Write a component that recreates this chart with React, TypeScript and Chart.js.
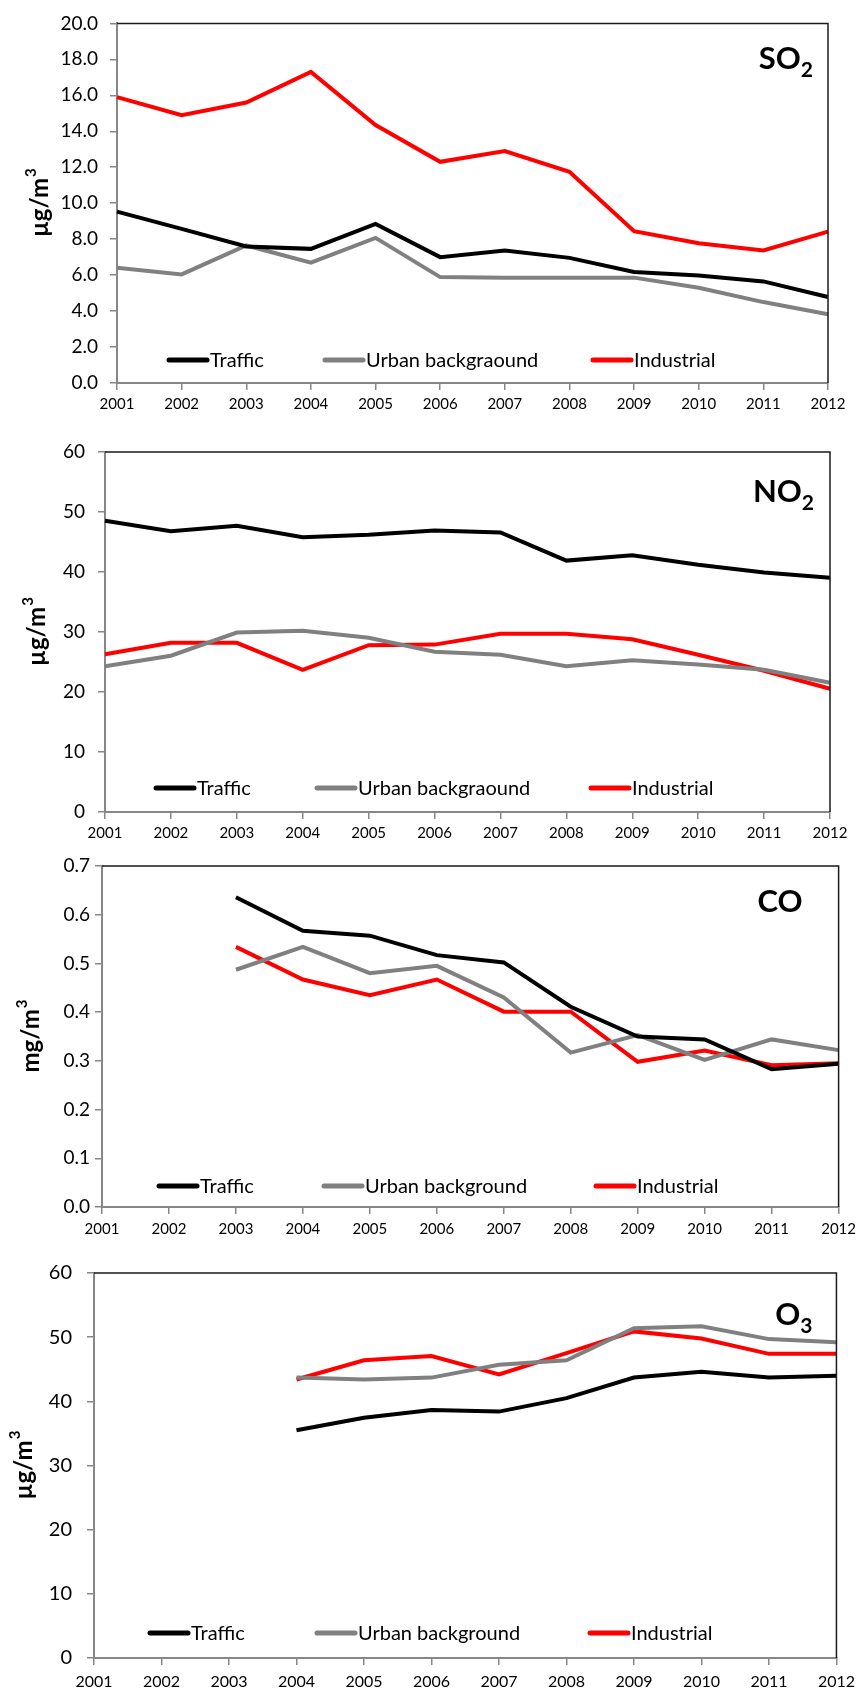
import React, { useEffect, useRef } from 'react';
import { Chart, registerables } from 'chart.js';

Chart.register(...registerables);

// ---------- data ----------
const years = ['2001', '2002', '2003', '2004', '2005', '2006', '2007', '2008', '2009', '2010', '2011', '2012'];

const so2Traffic = [9.53, 8.57, 7.59, 7.46, 8.85, 7.0, 7.37, 6.96, 6.17, 5.98, 5.65, 4.78];
const so2Urban = [6.41, 6.04, 7.65, 6.69, 8.07, 5.89, 5.86, 5.86, 5.86, 5.3, 4.5, 3.82];
const so2Industrial = [15.9, 14.9, 15.6, 17.3, 14.35, 12.3, 12.9, 11.75, 8.44, 7.77, 7.37, 8.42];

const no2Traffic = [48.55, 46.8, 47.7, 45.8, 46.2, 46.9, 46.6, 41.9, 42.8, 41.2, 39.9, 39.05];
const no2Urban = [24.3, 26.05, 29.9, 30.2, 29.05, 26.7, 26.2, 24.3, 25.3, 24.6, 23.7, 21.55];
const no2Industrial = [26.3, 28.2, 28.2, 23.7, 27.8, 27.9, 29.7, 29.7, 28.8, 26.2, 23.55, 20.55];

const coTraffic = [null, null, 0.636, 0.567, 0.557, 0.517, 0.502, 0.411, 0.35, 0.344, 0.283, 0.294];
const coUrban = [null, null, 0.487, 0.534, 0.48, 0.495, 0.43, 0.317, 0.353, 0.302, 0.344, 0.322];
const coIndustrial = [null, null, 0.534, 0.467, 0.435, 0.467, 0.401, 0.401, 0.298, 0.321, 0.291, 0.295];

const o3Traffic = [null, null, null, 35.5, 37.45, 38.65, 38.4, 40.5, 43.7, 44.6, 43.7, 44.0];
const o3Urban = [null, null, null, 43.7, 43.4, 43.7, 45.7, 46.4, 51.4, 51.7, 49.7, 49.2];
const o3Industrial = [null, null, null, 43.4, 46.4, 47.05, 44.2, 47.5, 50.9, 49.8, 47.4, 47.4];

const seriesNamesA = ['Traffic', 'Urban backgraound', 'Industrial'];
const seriesNamesB = ['Traffic', 'Urban background', 'Industrial'];

const so2Ticks = { min: 0, max: 20, step: 2, decimals: 1 };
const no2Ticks = { min: 0, max: 60, step: 10, decimals: 0 };
const coTicks = { min: 0, max: 0.7, step: 0.1, decimals: 1 };
const o3Ticks = { min: 0, max: 60, step: 10, decimals: 0 };

// ---------- styles ----------
const COLORS = ['#000000', '#808080', '#ff0000'];
const AXIS_GRAY = '#878787';
const FONT = 'Lato, "Open Sans", sans-serif';

type Panel = {
  top: number; height: number;
  area: { l: number; t: number; r: number; b: number };
  xPad: number; xFont: number; yPad: number; yFont: number;
  titleX: number; unit: string;
  formula: string; sub: string; fRight: number; fBase: number;
  legendX: number[]; legendY: number;
  names: string[]; data: (number | null)[][];
  ticks: { min: number; max: number; step: number; decimals: number };
};

const panels: Panel[] = [
  {
    top: 0, height: 425, area: { l: 117, t: 22, r: 828, b: 383 },
    xPad: 5, xFont: 15, yPad: 12, yFont: 19, titleX: 40, unit: 'µg/m',
    formula: 'SO', sub: '2', fRight: 15, fBase: 46,
    legendX: [167, 323, 591], legendY: 360,
    names: seriesNamesA, data: [so2Traffic, so2Urban, so2Industrial], ticks: so2Ticks,
  },
  {
    top: 425, height: 420, area: { l: 105, t: 452, r: 830, b: 812 },
    xPad: 5, xFont: 15, yPad: 13, yFont: 19, titleX: 37, unit: 'µg/m',
    formula: 'NO', sub: '2', fRight: 16, fBase: 50,
    legendX: [154, 315, 589], legendY: 788,
    names: seriesNamesA, data: [no2Traffic, no2Urban, no2Industrial], ticks: no2Ticks,
  },
  {
    top: 845, height: 400, area: { l: 102, t: 866, r: 844, b: 1207 },
    xPad: 6, xFont: 15, yPad: 5, yFont: 19, titleX: 31, unit: 'mg/m',
    formula: 'CO', sub: '', fRight: 36, fBase: 46,
    legendX: [157, 322, 594], legendY: 1186,
    names: seriesNamesB, data: [coTraffic, coUrban, coIndustrial], ticks: coTicks,
  },
  {
    top: 1245, height: 445, area: { l: 94, t: 1273, r: 838, b: 1658 },
    xPad: 7, xFont: 16, yPad: 15, yFont: 20, titleX: 24, unit: 'µg/m',
    formula: 'O', sub: '3', fRight: 24, fBase: 52,
    legendX: [148, 315, 588], legendY: 1633,
    names: seriesNamesB, data: [o3Traffic, o3Urban, o3Industrial], ticks: o3Ticks,
  },
];

function ChartPanel({ p }: { p: Panel }) {
  const ref = useRef<HTMLCanvasElement | null>(null);
  useEffect(() => {
    if (!ref.current) return;
    const a = p.area;
    const decor = {
      id: 'decor',
      afterDraw(chart: any) {
        const ctx = chart.ctx;
        const ca = chart.chartArea;
        ctx.save();
        // top and right frame
        ctx.strokeStyle = '#1a1a1a';
        ctx.lineWidth = 1.5;
        ctx.beginPath();
        ctx.moveTo(ca.left, ca.top);
        ctx.lineTo(ca.right, ca.top);
        ctx.lineTo(ca.right, ca.bottom);
        ctx.stroke();

        // legend
        ctx.font = `20px ${FONT}`;
        ctx.textBaseline = 'middle';
        ctx.textAlign = 'left';
        const ly = p.legendY - p.top;
        chart.data.datasets.forEach((ds: any, i: number) => {
          const x0 = p.legendX[i];
          ctx.strokeStyle = ds.borderColor;
          ctx.lineWidth = 5;
          ctx.lineCap = 'round';
          ctx.beginPath();
          ctx.moveTo(x0 + 2, ly);
          ctx.lineTo(x0 + 40, ly);
          ctx.stroke();
          ctx.fillStyle = '#000';
          ctx.fillText(ds.label, x0 + 43, ly + 1);
        });

        // formula label
        const mainFont = `bold 31px ${FONT}`;
        const subFont = `bold 21px ${FONT}`;
        ctx.font = subFont;
        const subW = p.sub ? ctx.measureText(p.sub).width : 0;
        ctx.font = mainFont;
        const mainW = ctx.measureText(p.formula).width;
        const xr = ca.right - p.fRight;
        const base = ca.top + p.fBase;
        ctx.textBaseline = 'alphabetic';
        ctx.fillText(p.formula, xr - subW - mainW, base);
        if (p.sub) {
          ctx.font = subFont;
          ctx.fillText(p.sub, xr - subW, base + 8);
        }

        // y-axis title
        const tFont = `bold 24px ${FONT}`;
        const supFont = `bold 15px ${FONT}`;
        ctx.font = tFont;
        const w1 = ctx.measureText(p.unit).width;
        ctx.font = supFont;
        const w2 = ctx.measureText('3').width;
        const cy = (ca.top + ca.bottom) / 2;
        ctx.translate(p.titleX, cy);
        ctx.rotate(-Math.PI / 2);
        const start = -(w1 + w2) / 2;
        ctx.textBaseline = 'middle';
        ctx.font = tFont;
        ctx.fillText(p.unit, start, 0);
        ctx.font = supFont;
        ctx.fillText('3', start + w1 + 1, -9);
        ctx.restore();
      },
    };

    const chart = new Chart(ref.current, {
      type: 'line',
      data: {
        labels: years,
        datasets: p.data.map((d, i) => ({
          label: p.names[i],
          data: d,
          borderColor: COLORS[i],
          backgroundColor: COLORS[i],
          borderWidth: 4,
          pointRadius: 0,
          tension: 0,
          fill: false,
          spanGaps: false,
        })),
      },
      options: {
        animation: false,
        responsive: false,
        layout: { padding: { left: 0, top: a.t - p.top, right: 862 - a.r, bottom: 0 } },
        plugins: { legend: { display: false }, tooltip: { enabled: false }, title: { display: false } },
        scales: {
          x: {
            type: 'category',
            offset: false,
            grid: { drawOnChartArea: false, drawTicks: true, tickLength: 7, color: AXIS_GRAY, lineWidth: 1.5 },
            border: { color: AXIS_GRAY, width: 2 },
            ticks: { color: '#000', font: { family: FONT, size: p.xFont }, padding: p.xPad, maxRotation: 0, autoSkip: false },
            afterFit: (s: any) => { s.height = p.top + p.height - a.b; },
          },
          y: {
            min: p.ticks.min,
            max: p.ticks.max,
            grid: { drawOnChartArea: false, drawTicks: true, tickLength: 7, color: AXIS_GRAY, lineWidth: 1.5 },
            border: { color: AXIS_GRAY, width: 2 },
            ticks: {
              stepSize: p.ticks.step,
              color: '#000',
              font: { family: FONT, size: p.yFont },
              padding: p.yPad,
              callback: (v: any) => Number(v).toFixed(p.ticks.decimals),
            },
            afterFit: (s: any) => { s.width = a.l; },
          },
        },
      },
      plugins: [decor],
    } as any);
    return () => chart.destroy();
  }, [p]);

  return (
    <canvas
      ref={ref}
      width={862}
      height={p.height}
      style={{ position: 'absolute', left: 0, top: p.top, width: 862, height: p.height, display: 'block' }}
    />
  );
}

export default function App() {
  return (
    <div style={{ position: 'absolute', left: 0, top: 0, width: 862, height: 1690, background: '#fff' }}>
      {panels.map((p, i) => (
        <ChartPanel key={i} p={p} />
      ))}
    </div>
  );
}
